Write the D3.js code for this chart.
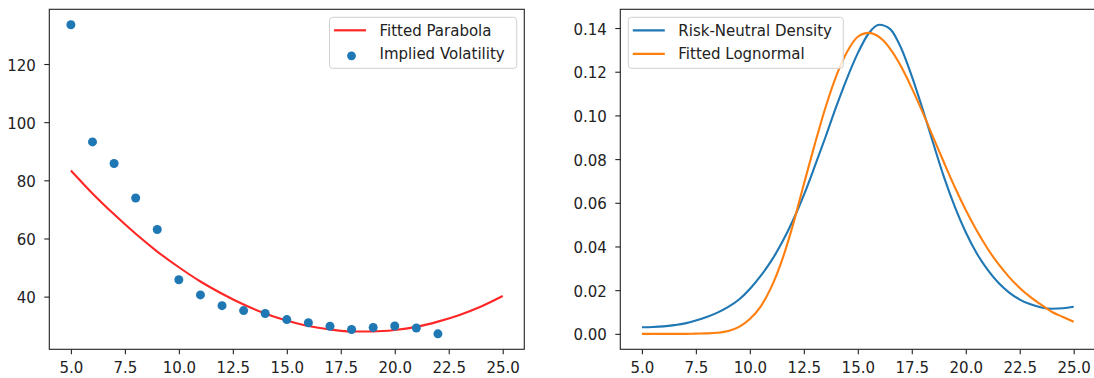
<!DOCTYPE html>
<html>
<head>
<meta charset="utf-8">
<script src="https://cdn.jsdelivr.net/npm/d3@7"></script>
<style>
  body { margin: 0; background: #fff; }
  text { font-family: "DejaVu Sans", sans-serif; font-size: 15px; fill: #222; }
</style>
</head>
<body>
<div id="chart"></div>
<script>
// strikes and implied vols
const strikes = [5, 6, 7, 8, 9, 10, 11, 12, 13, 14, 15, 16, 17, 18, 19, 20, 21, 22];
const impliedVol = [133.5, 93.2, 85.8, 73.9, 63.1, 45.8, 40.6, 36.9, 35.2, 34.2, 32.1, 31.0, 29.8, 28.7, 29.4, 29.9, 29.2, 27.2];

// fitted parabola, sampled at each strike 5..25
const parabolaX = [5, 6, 7, 8, 9, 10, 11, 12, 13, 14, 15, 16, 17, 18, 19, 20, 21, 22, 23, 24, 25];
const parabolaY = [83.4, 75.5, 68.3, 61.6, 55.5, 50.1, 45.2, 41.0, 37.3, 34.2, 31.8, 29.9, 28.7, 28.0, 28.0, 28.5, 29.6, 31.4, 33.7, 36.6, 40.2];

// density grid for the right panel
const gridX = [5, 5.5, 6, 6.5, 7, 7.5, 8, 8.5, 9, 9.5, 10, 10.5, 11, 11.5, 12, 12.5, 13, 13.5, 14, 14.5, 15,
  15.5, 16, 16.5, 17, 17.5, 18, 18.5, 19, 19.5, 20, 20.5, 21, 21.5, 22, 22.5, 23, 23.5, 24, 24.5, 25];
const rnDensity = [0.0030, 0.0031, 0.0034, 0.0040, 0.0048, 0.0061, 0.0077, 0.0097, 0.0123, 0.0157, 0.0205,
  0.0265, 0.0335, 0.0420, 0.0520, 0.0635, 0.0765, 0.0900, 0.1040, 0.1170, 0.1285,
  0.1375, 0.1415, 0.1395, 0.1310, 0.1180, 0.1030, 0.0870, 0.0715, 0.0580, 0.0465,
  0.0370, 0.0295, 0.0235, 0.0190, 0.0157, 0.0135, 0.0121, 0.0115, 0.0117, 0.0124];
const lognormal = [0.0000, 0.0000, 0.0000, 0.0000, 0.0000, 0.0001, 0.0002, 0.0005, 0.0013, 0.0032, 0.0068,
  0.0125, 0.0215, 0.0340, 0.0500, 0.0685, 0.0865, 0.1035, 0.1180, 0.1290, 0.1360,
  0.1378, 0.1358, 0.1305, 0.1225, 0.1125, 0.1015, 0.0898, 0.0782, 0.0670, 0.0567,
  0.0474, 0.0392, 0.0321, 0.0261, 0.0210, 0.0168, 0.0133, 0.0100, 0.0077, 0.0055];

const xTicks = [5, 7.5, 10, 12.5, 15, 17.5, 20, 22.5, 25];
const volTicks = [40, 60, 80, 100, 120];
const densTicks = [0, 0.02, 0.04, 0.06, 0.08, 0.10, 0.12, 0.14];

const W = 1094, H = 378;
const svg = d3.select('#chart').append('svg').attr('width', W).attr('height', H);
svg.append('rect').attr('width', W).attr('height', H).attr('fill', '#fff');

// matplotlib-ish 5% margin on a domain
function padded(lo, hi) {
  const p = (hi - lo) * 0.05;
  return [lo - p, hi + p];
}

function makePanel(left, right, top, bottom, xDom, yDom, yTicks, yFmt) {
  const x = d3.scaleLinear().domain(xDom).range([left, right]);
  const y = d3.scaleLinear().domain(yDom).range([bottom, top]);
  const g = svg.append('g');

  const xAxis = g.append('g').attr('transform', `translate(0,${bottom})`)
      .call(d3.axisBottom(x).tickValues(xTicks).tickFormat(d3.format('.1f')).tickSizeInner(5).tickSizeOuter(0).tickPadding(8));
  const yAxis = g.append('g').attr('transform', `translate(${left},0)`)
      .call(d3.axisLeft(y).tickValues(yTicks).tickFormat(yFmt).tickSizeInner(5).tickSizeOuter(0).tickPadding(8.5));
  [xAxis, yAxis].forEach(a => {
    a.select('.domain').remove();
    a.selectAll('line').attr('stroke', '#222').attr('stroke-width', 1.1);
    a.selectAll('text').attr('fill', '#222').style('font-size', '15px').attr('font-family', null);
  });
  yAxis.selectAll('text').attr('dy', '0.4em');

  return { x, y, g, frame: () => g.append('rect')
      .attr('x', left).attr('y', top).attr('width', right - left).attr('height', bottom - top)
      .attr('fill', 'none').attr('stroke', '#222').attr('stroke-width', 1.1) };
}

function legend(g, x0, y0, w, h, items) {
  g.append('rect').attr('x', x0).attr('y', y0).attr('width', w).attr('height', h)
      .attr('rx', 3).attr('fill', '#fff').attr('fill-opacity', 0.8)
      .attr('stroke', '#d0d0d0').attr('stroke-width', 1);
  items.forEach((it, i) => {
    const cy = y0 + 13 + i * 23.5;
    if (it.kind === 'line') {
      g.append('line').attr('x1', x0 + 4.5).attr('x2', x0 + 36.5).attr('y1', cy).attr('y2', cy)
          .attr('stroke', it.color).attr('stroke-width', 2.2).attr('stroke-opacity', it.alpha || 1);
    } else {
      g.append('circle').attr('cx', x0 + 22).attr('cy', cy + 2).attr('r', 4.4).attr('fill', it.color);
    }
    g.append('text').attr('x', x0 + 50).attr('y', cy).attr('dy', '0.36em').text(it.label);
  });
}

// left panel: implied vol smile
const volExt = d3.extent(impliedVol.concat(parabolaY));
const L = makePanel(49.3, 524.3, 9.3, 349.3, padded(5, 25), padded(volExt[0], volExt[1]), volTicks, d3.format('d'));
L.g.append('path')
    .datum(parabolaX.map((v, i) => [v, parabolaY[i]]))
    .attr('fill', 'none').attr('stroke', 'red').attr('stroke-opacity', 0.85).attr('stroke-width', 2.1)
    .attr('d', d3.line().x(d => L.x(d[0])).y(d => L.y(d[1])).curve(d3.curveMonotoneX));
L.g.selectAll('circle.pt').data(strikes).enter().append('circle')
    .attr('class', 'pt')
    .attr('cx', d => L.x(d)).attr('cy', (d, i) => L.y(impliedVol[i])).attr('r', 4.5)
    .attr('fill', '#1f77b4');
L.frame();
legend(L.g, 329.5, 17.3, 187.2, 51, [
  { kind: 'line', color: 'red', alpha: 0.85, label: 'Fitted Parabola' },
  { kind: 'dot', color: '#1f77b4', label: 'Implied Volatility' }
]);

// right panel: densities
const densMax = d3.max(rnDensity.concat(lognormal));
const R = makePanel(620.3, 1095.3, 9.3, 349.3, padded(5, 25), padded(0, densMax), densTicks, d3.format('.2f'));
const dLine = d3.line().x(d => R.x(d[0])).y(d => R.y(d[1])).curve(d3.curveMonotoneX);
R.g.append('path').datum(gridX.map((v, i) => [v, rnDensity[i]]))
    .attr('fill', 'none').attr('stroke', '#1f77b4').attr('stroke-width', 2.1).attr('d', dLine);
R.g.append('path').datum(gridX.map((v, i) => [v, lognormal[i]]))
    .attr('fill', 'none').attr('stroke', '#ff7f0e').attr('stroke-width', 2.1).attr('d', dLine);
R.frame();
legend(R.g, 628.3, 17.3, 215, 51, [
  { kind: 'line', color: '#1f77b4', label: 'Risk-Neutral Density' },
  { kind: 'line', color: '#ff7f0e', label: 'Fitted Lognormal' }
]);
</script>
</body>
</html>
